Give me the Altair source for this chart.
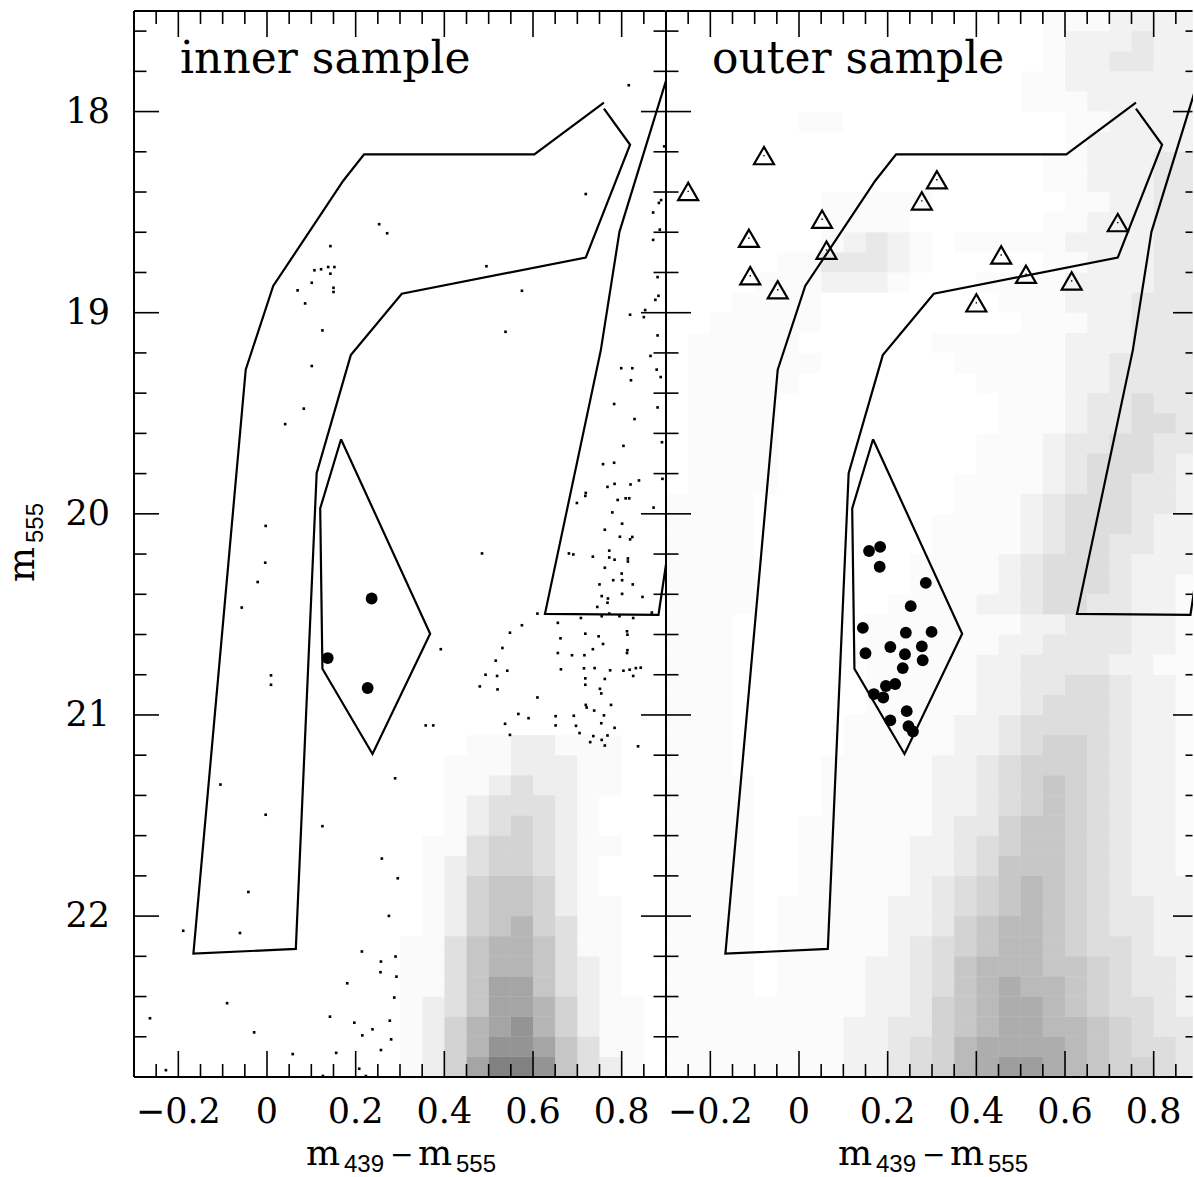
import altair as alt
import pandas as pd

# ---------------- axes / ranges ----------------
Y_DOMAIN = [17.5, 22.8]
X_DOMAIN_INNER = [-0.3, 0.9]
X_DOMAIN_OUTER = [-0.3, 0.8887]          # right frame lies just outside the picture
X_LABELS = [-0.2, 0.0, 0.2, 0.4, 0.6, 0.8]
Y_LABELS = [18, 19, 20, 21, 22]
X_MINOR = [-0.25, -0.15, -0.1, -0.05, 0.05, 0.1, 0.15, 0.25, 0.3, 0.35,
           0.45, 0.5, 0.55, 0.65, 0.7, 0.75, 0.85]
Y_MINOR = [17.6, 17.8, 18.2, 18.4, 18.6, 18.8, 19.2, 19.4, 19.6, 19.8, 20.2,
           20.4, 20.6, 20.8, 21.2, 21.4, 21.6, 21.8, 22.2, 22.4, 22.6]

# ---------------- selection boxes (same in both panels) ----------------
POLY_A_X = [0.760, 0.603, 0.219, 0.172, 0.014, -0.048, -0.166, 0.065, 0.112, 0.189, 0.304, 0.719, 0.819, 0.760]
POLY_A_Y = [17.955, 18.213, 18.213, 18.344, 18.867, 19.283, 22.187, 22.163, 19.798, 19.211, 18.906, 18.726, 18.165, 17.985]
POLY_B_X = [0.9345, 0.795, 0.753, 0.627, 0.883, 0.930]
POLY_B_Y = [17.600, 18.598, 19.186, 20.497, 20.502, 19.810]
POLY_C_X = [0.167, 0.368, 0.238, 0.125, 0.120, 0.167]
POLY_C_Y = [19.629, 20.596, 21.194, 20.770, 19.973, 19.629]

# ---------------- highlighted stars ----------------
INNER_CIRC_X = [0.236, 0.137, 0.227]
INNER_CIRC_Y = [20.421, 20.717, 20.866]
OUTER_CIRC_X = [0.158, 0.183, 0.182, 0.286, 0.252, 0.144, 0.241, 0.299, 0.150, 0.206, 0.239,
                0.277, 0.279, 0.234, 0.196, 0.217, 0.169, 0.190, 0.243, 0.206, 0.247, 0.257]
OUTER_CIRC_Y = [20.185, 20.164, 20.263, 20.343, 20.459, 20.567, 20.591, 20.587, 20.693, 20.662, 20.698,
                20.659, 20.728, 20.767, 20.856, 20.846, 20.896, 20.913, 20.981, 21.027, 21.056, 21.082]
OUTER_TRI_X = [-0.250, -0.079, -0.113, -0.110, -0.048, 0.052, 0.062, 0.277, 0.311, 0.400, 0.456, 0.512, 0.615, 0.719]
OUTER_TRI_Y = [18.397, 18.219, 18.630, 18.816, 18.886, 18.535, 18.689, 18.444, 18.339, 18.951, 18.713, 18.809, 18.842, 18.552]

# ---------------- inner sample: individually read field stars (sparse part) ----------------
INNER_STARS = [
    (0.253, 18.560), (0.271, 18.605), (0.143, 18.669), (0.107, 18.789), (0.122, 18.784), (0.138, 18.773),
    (0.152, 18.773), (0.143, 18.806), (0.101, 18.851), (0.069, 18.889), (0.150, 18.876), (0.150, 18.897),
    (0.086, 18.954), (0.125, 19.088), (0.101, 19.265),
    (0.816, 17.869), (0.896, 18.173), (0.719, 18.410), (0.889, 18.440), (0.884, 18.454), (0.871, 18.502),
    (0.886, 18.587), (0.871, 18.638), (0.495, 18.769), (0.575, 18.891), (0.538, 19.095), (0.881, 18.823),
    (0.883, 18.916), (0.876, 18.936), (0.853, 18.987), (0.819, 19.010), (0.850, 19.022), (0.881, 19.113),
    (0.865, 19.215), (0.799, 19.276), (0.824, 19.276), (0.821, 19.336), (0.879, 19.283), (0.888, 19.320),
    (0.083, 19.477), (0.041, 19.554), (-0.003, 20.060), (-0.004, 20.243), (-0.021, 20.339), (-0.057, 20.466),
    (0.009, 20.803), (0.009, 20.850), (-0.105, 21.346), (0.289, 21.315), (-0.003, 21.496), (0.125, 21.553),
    (0.259, 21.714), (0.295, 21.812), (-0.042, 21.880), (0.275, 21.999), (-0.189, 22.073), (-0.061, 22.084),
    (0.214, 22.176), (0.257, 22.226), (0.256, 22.279), (0.290, 22.201), (0.292, 22.301), (0.181, 22.334),
    (-0.090, 22.433), (0.287, 22.405), (-0.264, 22.508), (0.142, 22.500), (0.197, 22.530), (0.238, 22.563),
    (0.215, 22.593), (0.277, 22.520), (0.280, 22.613), (-0.029, 22.578), (0.257, 22.666), (0.058, 22.686),
    (0.156, 22.680), (-0.228, 22.766), (0.208, 22.759), (0.126, 22.795), (0.223, 22.795),
    (0.783, 19.454), (0.881, 19.471), (0.829, 19.529), (0.891, 19.644), (0.804, 19.662), (0.758, 19.753),
    (0.783, 19.746), (0.892, 19.826), (0.839, 19.834), (0.820, 19.854), (0.784, 19.851), (0.768, 19.866),
    (0.719, 19.896), (0.718, 19.911), (0.791, 19.931), (0.809, 19.923), (0.817, 19.923), (0.699, 19.946),
    (0.779, 19.993), (0.872, 19.969), (0.801, 20.049), (0.762, 20.079), (0.796, 20.114), (0.819, 20.127),
    (0.824, 20.115), (0.772, 20.183), (0.681, 20.197), (0.691, 20.202), (0.735, 20.213), (0.772, 20.217),
    (0.784, 20.228), (0.814, 20.222), (0.814, 20.237), (0.762, 20.268), (0.800, 20.297), (0.781, 20.330),
    (0.801, 20.330), (0.750, 20.351), (0.825, 20.351), (0.755, 20.409), (0.769, 20.421), (0.768, 20.442),
    (0.847, 20.413), (0.745, 20.463), (0.801, 20.398), (0.610, 20.496), (0.772, 20.496), (0.795, 20.509),
    (0.755, 20.509), (0.708, 20.518), (0.826, 20.518), (0.868, 20.491), (0.485, 20.197),
    (0.656, 20.542), (0.575, 20.554), (0.548, 20.591), (0.718, 20.596), (0.748, 20.609), (0.812, 20.584),
    (0.813, 20.601), (0.662, 20.619), (0.758, 20.647), (0.735, 20.673), (0.813, 20.678), (0.812, 20.692),
    (0.531, 20.667), (0.392, 20.673), (0.656, 20.692), (0.688, 20.703), (0.716, 20.703), (0.516, 20.730),
    (0.663, 20.773), (0.715, 20.768), (0.739, 20.767), (0.774, 20.778), (0.804, 20.780), (0.818, 20.775),
    (0.832, 20.767), (0.843, 20.765), (0.826, 20.806), (0.762, 20.821), (0.718, 20.818), (0.718, 20.850),
    (0.493, 20.800), (0.519, 20.806), (0.542, 20.780), (0.480, 20.858), (0.520, 20.873), (0.751, 20.870),
    (0.754, 20.893), (0.610, 20.913), (0.719, 20.950), (0.721, 20.963), (0.776, 20.950), (0.738, 20.978),
    (0.567, 20.995), (0.590, 21.016), (0.651, 21.006), (0.692, 21.004), (0.760, 21.002), (0.358, 21.052),
    (0.375, 21.052), (0.537, 21.044), (0.651, 21.052), (0.697, 21.054), (0.754, 21.041), (0.784, 21.064),
    (0.548, 21.099), (0.705, 21.090), (0.736, 21.105), (0.768, 21.102), (0.755, 21.124), (0.762, 21.152),
    (0.729, 21.135), (0.837, 21.156),
]

# ---------------- star density (0-9 per 0.05 x 0.1 mag cell) ----------------
GRID_X0, CELL_DX, CELL_DY = -0.3, 0.05, 0.1
INNER_GRID_Y0 = 21.1
INNER_GRID = [
    "000000000000000112211100",
    "000000000000001112221100",
    "000000000000001123221100",
    "000000000000001233321000",
    "000000000000001234321000",
    "000000000000011344321100",
    "000000000000012344321000",
    "000000000000012455421000",
    "000000000000012455421100",
    "000000000000012456431100",
    "000000000000113566531100",
    "000000000000113566532100",
    "000000000000113577532100",
    "000000000000123577642110",
    "000000000000124678642110",
    "000000000000124688753110",
    "000000000000124799853210",
]
OUTER_GRID_Y0 = 17.5
OUTER_GRID = [
    "000000000000000001112222", "000000000000000001222322", "000000000000000001223322",
    "000000000000000011222222", "000000000000000011122222", "000000110000000000112222",
    "000000000000000000122222", "000000000000000001122233", "000000000000000001122233",
    "000000011111000000112233", "000000011110000001122233", "000000012321011111222233",
    "000001133321000001122233", "000011122210001111222233", "000111100000000111222333",
    "001111100000000011122333", "011111000000111111222333", "011111100000011111223333",
    "011111000000001111223333", "011110000000000111233433", "011110000000000111233443",
    "011110000000001112334433", "011110000000001112344432", "011110000000011112344332",
    "111100000000011123444332", "111100000000111123444322", "111100000000111123443322",
    "111100000001111234443222", "111100000001111234443221", "111100000011112234433221",
    "111000000111111122333221", "111000000111111223333221", "111000000111112233332211",
    "111000000111112233443221", "111000000111112234443221", "111000001111122344443221",
    "111000001111122345543221", "111000011111223455543221", "111100011111223456543221",
    "111100011111223456543221", "111100111111233566543221", "111100111112234566543221",
    "111100111112234666543221", "111100111112345676543222", "111101111122345676543322",
    "111101111122356776543322", "111101111123456776544322", "111101111223467776654332",
    "111101111223467877654332", "111111111223567887654432", "111111112233567887765433",
    "111111112234578888765443", "111111112234578998765543",
]

PANEL_LABELS = ["inner sample", "outer sample"]
X_TITLE = ["m", "439", "\u2212", "m", "555"]
Y_TITLE = ["m", "555"]

# ---------------- layout / style ----------------
H = 1066
W_IN, W_OUT, W_FRAME = 532, 527, 532
SERIF, SANS = "DejaVu Serif", "Liberation Sans"
MAJ, MIN_ = 25, 12.5
LEVEL_OPACITY = [0, 0.012, 0.045, 0.08, 0.115, 0.15, 0.19, 0.235, 0.28, 0.33]


def grid_table(rows, y0, gain):
    recs = []
    for r, s in enumerate(rows):
        s = s.ljust(24, "0")[:24]
        for c, ch in enumerate(s):
            lev = int(ch)
            if lev:
                recs.append(dict(x0=GRID_X0 + CELL_DX * c, x1=GRID_X0 + CELL_DX * (c + 1),
                                 y0=y0 + CELL_DY * r, y1=y0 + CELL_DY * (r + 1),
                                 op=min(1.0, LEVEL_OPACITY[lev] * gain)))
    return pd.DataFrame(recs)


def polys():
    recs = []
    for name, xs, ys in (("A", POLY_A_X, POLY_A_Y), ("B", POLY_B_X, POLY_B_Y), ("C", POLY_C_X, POLY_C_Y)):
        for i, (x, y) in enumerate(zip(xs, ys)):
            recs.append(dict(shape=name, i=i, x=x, y=y))
    return pd.DataFrame(recs)


def fmt(v):
    s = f"{v:g}"
    return s.replace("-", "\u2212")


ONE = pd.DataFrame({"k": [0]})


def txt(t, x, y, size, font, angle=0):
    return alt.Chart(pd.DataFrame({"t": [t]})).mark_text(
        align="left", baseline="alphabetic", font=font, fontSize=size, angle=angle, color="black"
    ).encode(x=alt.value(x), y=alt.value(y), text="t:N")


def prule(x, x2, y, y2, w=2):
    return alt.Chart(ONE).mark_rule(color="black", strokeWidth=w).encode(
        x=alt.value(x), x2=alt.value(x2), y=alt.value(y), y2=alt.value(y2))


def make_panel(label, width, xdom, grid_df, is_left, circ_x, circ_y, tri_x=None, tri_y=None):
    xs = alt.Scale(domain=xdom, nice=False, zero=False)
    ys = alt.Scale(domain=Y_DOMAIN, nice=False, zero=False, reverse=True)
    layers = []
    if is_left:
        layers.append(alt.Chart(ONE).mark_rect(color="white").encode(
            x=alt.value(-134), x2=alt.value(0), y=alt.value(-11), y2=alt.value(1161)))
    layers.append(alt.Chart(grid_df).mark_rect(color="black", strokeWidth=0, clip=True).encode(
        x=alt.X("x0:Q", scale=xs, axis=None), x2="x1:Q",
        y=alt.Y("y0:Q", scale=ys, axis=None), y2="y1:Q",
        opacity=alt.Opacity("op:Q", scale=None, legend=None)))
    if is_left:
        sd = pd.DataFrame(INNER_STARS, columns=["x", "y"])
        layers.append(alt.Chart(sd).mark_square(size=7, color="black", opacity=1).encode(
            x=alt.X("x:Q", scale=xs, axis=None), y=alt.Y("y:Q", scale=ys, axis=None)))
    layers.append(alt.Chart(polys()).mark_line(color="black", strokeWidth=2.2, clip=True).encode(
        x=alt.X("x:Q", scale=xs, axis=None), y=alt.Y("y:Q", scale=ys, axis=None),
        detail="shape:N", order="i:Q"))
    layers.append(alt.Chart(pd.DataFrame({"x": circ_x, "y": circ_y})).mark_circle(
        size=140, color="black", opacity=1).encode(
        x=alt.X("x:Q", scale=xs, axis=None), y=alt.Y("y:Q", scale=ys, axis=None)))
    if tri_x is not None:
        td = pd.DataFrame({"x": tri_x, "y": tri_y})
        layers.append(alt.Chart(td).mark_point(shape="triangle-up", size=400, filled=False, color="black",
                                               strokeWidth=2.2, opacity=1).encode(
            x=alt.X("x:Q", scale=xs, axis=None), y=alt.Y("y:Q", scale=ys, axis=None)))
        layers.append(alt.Chart(td).mark_square(size=2, color="black", opacity=1).encode(
            x=alt.X("x:Q", scale=xs, axis=None), y=alt.Y("y:Q", scale=ys, axis=None)))
    # ticks
    right_edge = min(W_FRAME, width - 0.5)
    for vals, ln in ((X_LABELS, MAJ + 1), (X_MINOR, MIN_ + 0.5)):
        d = pd.DataFrame({"v": vals})
        for y0, y1 in ((0, ln), (H, H - ln)):
            layers.append(alt.Chart(d).mark_rule(color="black", strokeWidth=1.6).encode(
                x=alt.X("v:Q", scale=xs, axis=None), y=alt.value(y0), y2=alt.value(y1)))
    for vals, ln in ((Y_LABELS, MAJ), (Y_MINOR, MIN_)):
        d = pd.DataFrame({"v": vals})
        for x0, x1 in ((0, ln), (W_FRAME - ln, right_edge)):
            layers.append(alt.Chart(d).mark_rule(color="black", strokeWidth=1.6).encode(
                y=alt.Y("v:Q", scale=ys, axis=None), x=alt.value(x0), x2=alt.value(x1)))
    # frame
    layers.append(prule(0, right_edge, 0, 0))
    layers.append(prule(0, right_edge, H, H))
    layers.append(prule(0, 0, 0, H))
    if is_left:
        layers.append(prule(width, width, 0, H))
    # tick labels
    xl = pd.DataFrame({"v": X_LABELS, "t": [fmt(v) for v in X_LABELS]})
    layers.append(alt.Chart(xl).mark_text(align="center", baseline="alphabetic", font=SERIF, fontSize=35,
                                          color="black").encode(
        x=alt.X("v:Q", scale=xs, axis=None), y=alt.value(H + 46), text="t:N"))
    if is_left:
        yl = pd.DataFrame({"v": Y_LABELS, "t": [fmt(v) for v in Y_LABELS]})
        layers.append(alt.Chart(yl).mark_text(align="right", baseline="middle", font=SERIF, fontSize=35,
                                              color="black").encode(
            y=alt.Y("v:Q", scale=ys, axis=None), x=alt.value(-24), text="t:N"))
    # texts
    layers.append(txt(label, 46, 62, 44, SERIF))
    layers.append(txt(X_TITLE[0], 172, 1154, 36, SERIF))
    layers.append(txt(X_TITLE[1], 210, 1161, 24, SANS))
    layers.append(txt(X_TITLE[2], 256, 1153, 28, SERIF))
    layers.append(txt(X_TITLE[3], 284, 1154, 36, SERIF))
    layers.append(txt(X_TITLE[4], 322, 1161, 24, SANS))
    if is_left:
        layers.append(txt(Y_TITLE[0], -100, 571, 37, SERIF, angle=270))
        layers.append(txt(Y_TITLE[1], -91, 532, 24, SANS, angle=270))
    return alt.layer(*layers).properties(width=width, height=H)


left = make_panel(PANEL_LABELS[0], W_IN, X_DOMAIN_INNER, grid_table(INNER_GRID, INNER_GRID_Y0, 1.5),
                  True, INNER_CIRC_X, INNER_CIRC_Y)
right = make_panel(PANEL_LABELS[1], W_OUT, X_DOMAIN_OUTER, grid_table(OUTER_GRID, OUTER_GRID_Y0, 1.15),
                   False, OUTER_CIRC_X, OUTER_CIRC_Y, OUTER_TRI_X, OUTER_TRI_Y)

chart = alt.hconcat(left, right, spacing=0, bounds="flush").resolve_scale(
    x="independent", y="independent"
).configure_view(stroke=None).properties(padding=0, background="white")

chart.save("out.html", embed_options={"renderer": "svg", "actions": False})
